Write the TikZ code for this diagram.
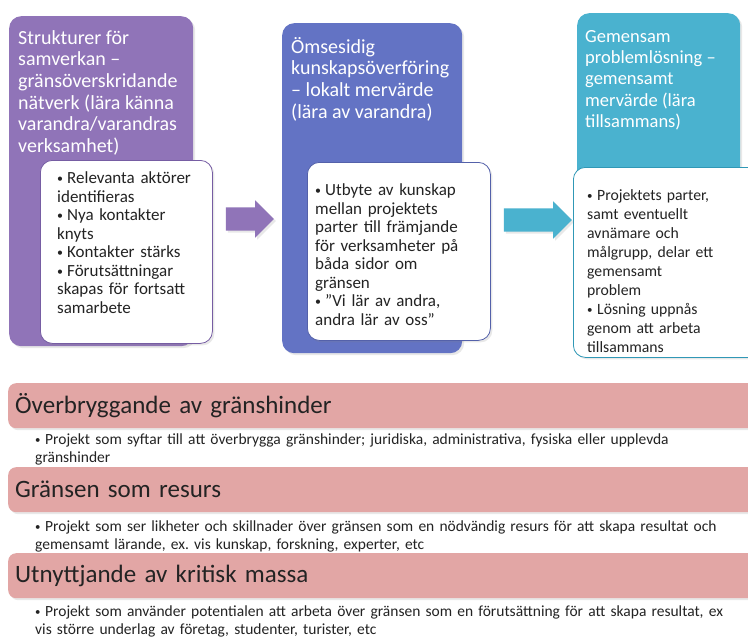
\documentclass[tikz,border=0pt]{standalone}
\usepackage{fontspec}
\setmainfont{Carlito}
\usetikzlibrary{shapes.arrows,shadows}
\frenchspacing

\definecolor{lila}{RGB}{144,116,184}
\definecolor{lilaline}{RGB}{118,93,163}
\definecolor{blaa}{RGB}{99,115,196}
\definecolor{blaaline}{RGB}{84,97,170}
\definecolor{turkos}{RGB}{74,178,207}
\definecolor{turkosline}{RGB}{48,152,182}
\definecolor{rosa}{RGB}{226,166,165}
\definecolor{textgra}{RGB}{35,35,35}

\newcommand\pkt[1]{\par\noindent\hangindent=10pt\hangafter=1\makebox[10pt][l]{\raisebox{0.05em}{\scalebox{0.7}{\textbullet}}}#1\par}

\begin{document}
\begin{tikzpicture}[
  x=1pt, y=-1pt,
  every node/.style={inner sep=0pt, anchor=north west},
  skugga/.style={drop shadow={opacity=0.18, shadow xshift=2pt, shadow yshift=-2pt}},
  stage/.style={rounded corners=12pt, minimum height=330pt, skugga},
  card/.style={fill=white, thick, rounded corners=12pt, skugga},
  head/.style={text=white, align=left, font=\fontsize{20}{21.7}\selectfont},
  punkter/.style={text=textgra, text width=175pt, align=left, font=\fontsize{17}{18.5}\selectfont},
  flow/.style={single arrow, anchor=center, single arrow head extend=7pt, inner ysep=11.5pt, inner xsep=0pt, skugga},
  bar/.style={fill=rosa, rounded corners=8pt, minimum height=45pt, text width=746pt, inner xsep=7pt, text=textgra, font=\fontsize{25}{28}\selectfont, skugga},
  barpunkt/.style={text=textgra, text width=760pt, align=left, font=\fontsize{15.5}{17.5}\selectfont}
]
\useasboundingbox (0,0) rectangle (748,638);
\clip (0,0) rectangle (748,638);
\fill[white] (0,0) rectangle (748,638);

% Strukturer för samverkan
\node[stage, fill=lila, minimum width=184pt] (steg1) at (9,16) {};
\node[head] (rubrik1) at ([shift={(9,14)}]steg1.north west) {Strukturer för\\samverkan –\\gränsöverskridande\\nätverk (lära känna\\varandra/varandras\\verksamhet)};
\node[card, draw=lilaline, minimum width=172pt, minimum height=183pt] (kort1) at (40,160) {};
\node[punkter] (punkt1) at ([shift={(17,5)}]kort1.north west) {\pkt{Relevanta aktörer\\identifieras}\pkt{Nya kontakter\\knyts}\pkt{Kontakter stärks}\pkt{Förutsättningar\\skapas för fortsatt\\samarbete}};

% Ömsesidig kunskapsöverföring
\node[stage, fill=blaa, minimum width=180pt] (steg2) at (282,23) {};
\node[head] (rubrik2) at ([shift={(9,14)}]steg2.north west) {Ömsesidig\\kunskapsöverföring\\– lokalt mervärde\\(lära av varandra)};
\node[card, draw=blaaline, minimum width=183pt, minimum height=178pt] (kort2) at (307,162) {};
\node[punkter] (punkt2) at ([shift={(8,15)}]kort2.north west) {\pkt{Utbyte av kunskap\\mellan projektets\\parter till främjande\\för verksamheter på\\båda sidor om\\gränsen}\pkt{”Vi lär av andra,\\andra lär av oss”}};

% Gemensam problemlösning
\node[stage, fill=turkos, minimum width=163pt] (steg3) at (577,13) {};
\node[head, font=\fontsize{18.5}{21.3}\selectfont] (rubrik3) at ([shift={(8,17)}]steg3.north west) {Gemensam\\problemlösning –\\gemensamt\\mervärde (lära\\tillsammans)};
\node[card, draw=turkosline, minimum width=190pt, minimum height=190pt] (kort3) at (573,167) {};
\node[punkter, font=\fontsize{15.7}{19}\selectfont] (punkt3) at ([shift={(14,14)}]kort3.north west) {\pkt{Projektets parter,\\samt eventuellt\\avnämare och\\målgrupp, delar ett\\gemensamt\\problem}\pkt{Lösning uppnås\\genom att arbeta\\tillsammans}};

% pilar
\node[flow, fill=lila, minimum height=48pt] (pil1) at (244,219) {};
\node[flow, fill=turkos, minimum height=68pt] (pil2) at (532,220) {};

% projekttyper
\node[bar] (hinder) at (8,383) {Överbryggande av gränshinder};
\node[barpunkt] (hinderpkt) at (35,427) {\pkt{Projekt som syftar till att överbrygga gränshinder; juridiska, administrativa, fysiska eller upplevda\\gränshinder}};
\node[bar] (resurs) at (8,467) {Gränsen som resurs};
\node[barpunkt] (resurspkt) at (35,514) {\pkt{Projekt som ser likheter och skillnader över gränsen som en nödvändig resurs för att skapa resultat och\\gemensamt lärande, ex. vis kunskap, forskning, experter, etc}};
\node[bar] (massa) at (8,553) {Utnyttjande av kritisk massa};
\node[barpunkt] (massapkt) at (35,599) {\pkt{Projekt som använder potentialen att arbeta över gränsen som en förutsättning för att skapa resultat, ex\\vis större underlag av företag, studenter, turister, etc}};
\end{tikzpicture}
\end{document}
